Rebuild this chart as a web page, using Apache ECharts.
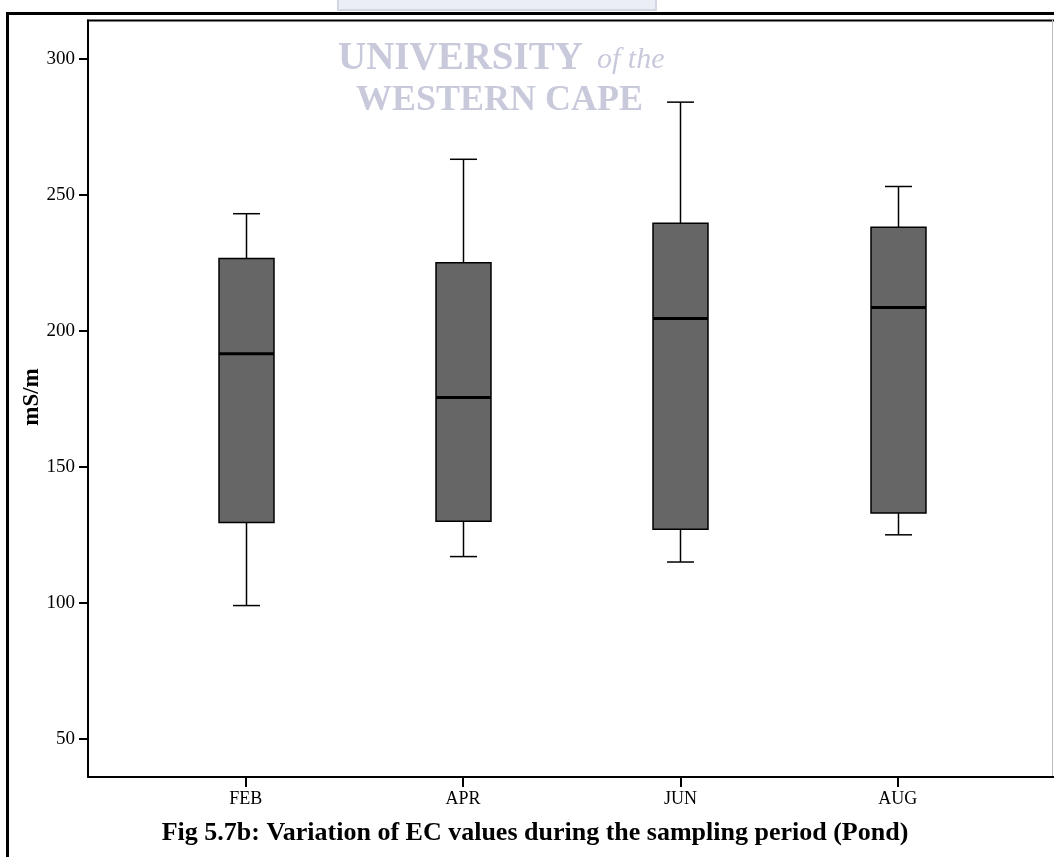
<!DOCTYPE html>
<html>
<head>
<meta charset="utf-8">
<script src="https://cdn.jsdelivr.net/npm/echarts@6/dist/echarts.min.js"></script>
<style>
html,body{margin:0;padding:0;background:#fff;}
#chart{width:1054px;height:857px;}
</style>
</head>
<body>
<div id="chart"></div>
<script>
const categories = ['FEB', 'APR', 'JUN', 'AUG'];
const minValues = [99, 117, 115, 125];
const q1Values = [129.5, 130, 127, 133];
const medianValues = [191.5, 175.5, 204.5, 208.5];
const q3Values = [226.5, 225, 239.5, 238];
const maxValues = [243, 263, 284, 253];
const yTicks = [50, 100, 150, 200, 250, 300];
const xTicks = [0, 1, 2, 3];

const boxData = categories.map((c, i) => [i, minValues[i], q1Values[i], medianValues[i], q3Values[i], maxValues[i]]);

const serif = '"Liberation Serif", "DejaVu Serif", serif';
const chart = echarts.init(document.getElementById('chart'));

const option = {
  backgroundColor: '#fff',
  animation: false,
  grid: { left: 88, top: 20.5, right: 2, bottom: 80, containLabel: false },
  xAxis: {
    type: 'value',
    min: -0.726,
    max: 3.71,
    splitLine: { show: false },
    axisLine: { show: true, onZero: false, lineStyle: { color: '#000', width: 2 } },
    axisTick: { show: true, customValues: xTicks, length: 10, lineStyle: { color: '#000', width: 2 } },
    axisLabel: {
      customValues: xTicks,
      margin: 13,
      color: '#000',
      fontFamily: serif,
      fontSize: 18,
      formatter: v => categories[Math.round(v)] || ''
    }
  },
  yAxis: {
    type: 'value',
    min: 36,
    max: 314,
    splitLine: { show: false },
    axisLine: { show: true, onZero: false, lineStyle: { color: '#000', width: 2 } },
    axisTick: { show: true, customValues: yTicks, length: 9, lineStyle: { color: '#000', width: 2 } },
    axisLabel: {
      customValues: yTicks,
      margin: 13,
      color: '#000',
      fontFamily: serif,
      fontSize: 19
    }
  },
  series: [{
    type: 'custom',
    data: boxData,
    encode: { x: 0, y: [1, 2, 3, 4, 5] },
    renderItem: function (params, api) {
      const x = api.value(0);
      const lo = api.coord([x, api.value(1)]);
      const q1 = api.coord([x, api.value(2)]);
      const med = api.coord([x, api.value(3)]);
      const q3 = api.coord([x, api.value(4)]);
      const hi = api.coord([x, api.value(5)]);
      const bw = api.size([0.253, 0])[0];
      const cw = api.size([0.124, 0])[0];
      const cx = Math.round(lo[0]) + 0.5;
      const lineStyle = { stroke: '#000', lineWidth: 1.5 };
      return {
        type: 'group',
        children: [
          { type: 'line', shape: { x1: cx, y1: hi[1], x2: cx, y2: q3[1] }, style: lineStyle },
          { type: 'line', shape: { x1: cx, y1: q1[1], x2: cx, y2: lo[1] }, style: lineStyle },
          { type: 'line', shape: { x1: cx - cw / 2, y1: hi[1], x2: cx + cw / 2, y2: hi[1] }, style: lineStyle },
          { type: 'line', shape: { x1: cx - cw / 2, y1: lo[1], x2: cx + cw / 2, y2: lo[1] }, style: lineStyle },
          { type: 'rect', shape: { x: cx - bw / 2, y: q3[1], width: bw, height: q1[1] - q3[1] },
            style: { fill: '#666666', stroke: '#000', lineWidth: 1.5 } },
          { type: 'line', shape: { x1: cx - bw / 2, y1: med[1], x2: cx + bw / 2, y2: med[1] },
            style: { stroke: '#000', lineWidth: 3 } }
        ]
      };
    }
  }],
  graphic: [
    // watermark logo remnant
    { type: 'rect', shape: { x: 338, y: -2, width: 318, height: 12 },
      style: { fill: '#eceef6', stroke: '#d4d6e6', lineWidth: 2 }, z: 0 },
    { type: 'text', left: 338, top: 39, z: 0,
      style: { text: 'UNIVERSITY', fill: '#c8cadc', font: 'bold 39px ' + serif } },
    { type: 'text', left: 597, top: 45, z: 0,
      style: { text: 'of the', fill: '#c8cadc', font: 'italic 30px ' + serif } },
    { type: 'text', left: 356, top: 83, z: 0,
      style: { text: 'WESTERN CAPE', fill: '#c8cadc', font: 'bold 36px ' + serif } },
    // outer frame
    { type: 'line', shape: { x1: 6, y1: 13.5, x2: 1054, y2: 13.5 }, style: { stroke: '#000', lineWidth: 3 }, z: 10 },
    { type: 'line', shape: { x1: 7.5, y1: 12, x2: 7.5, y2: 857 }, style: { stroke: '#000', lineWidth: 3 }, z: 10 },
    // plot top and right border
    { type: 'line', shape: { x1: 87, y1: 20.5, x2: 1054, y2: 20.5 }, style: { stroke: '#000', lineWidth: 2 }, z: 10 },
    { type: 'line', shape: { x1: 1052.5, y1: 20, x2: 1052.5, y2: 777 }, style: { stroke: '#bbbbbb', lineWidth: 1 }, z: 10 },
    { type: 'line', shape: { x1: 1050, y1: 777, x2: 1054, y2: 777 }, style: { stroke: '#000', lineWidth: 2 }, z: 10 },
    // y axis name
    { type: 'text', x: 32, y: 397, rotation: Math.PI / 2, z: 10,
      style: { text: 'mS/m', fill: '#000', font: 'bold 23px ' + serif, align: 'center', verticalAlign: 'middle' } },
    // caption
    { type: 'text', x: 535, y: 833, z: 10,
      style: { text: 'Fig 5.7b: Variation of EC values during the sampling period (Pond)', fill: '#000',
        font: 'bold 26px ' + serif, align: 'center', verticalAlign: 'middle' } }
  ]
};
chart.setOption(option);
</script>
</body>
</html>
